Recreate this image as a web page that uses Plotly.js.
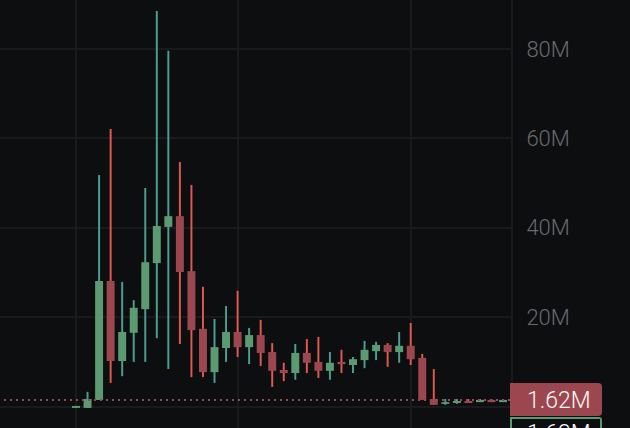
<!DOCTYPE html>
<html>
<head>
<meta charset="utf-8">
<script src="https://cdn.plot.ly/plotly-3.0.1.min.js"></script>
<style>
    html, body { margin: 0; padding: 0; background: #0d0e10; overflow: hidden; }
    #chart { width: 630px; height: 428px; }
</style>
</head>
<body>
<div id="chart"></div>
<script>
// candle values in millions
const opens = [-0.3, -0.3, 1.5, 28.1, 10.2, 16.5, 21.8, 32.1, 40.2, 42.6, 30.3, 17.4, 7.7, 13.1, 16.7, 13.3, 16.0, 12.2, 8.2, 7.5, 12.0, 10.0, 8.0, 10.0, 9.3, 10.4, 12.4, 13.8, 12.2, 13.6, 10.9, 1.7, 0.6, 0.8, 1.25, 1.0, 1.5, 1.0];
const closes = [0.15, 1.7, 28.1, 10.2, 16.7, 22.1, 32.3, 40.4, 42.6, 30.1, 17.1, 7.7, 13.3, 16.7, 13.3, 16.0, 12.0, 8.0, 7.5, 12.0, 9.8, 8.0, 9.8, 9.5, 10.6, 12.7, 13.8, 12.2, 13.6, 10.6, 1.5, 0.4, 1.0, 1.25, 0.8, 1.5, 1.0, 1.5];
const highs = [0.15, 3.3, 51.8, 62.1, 27.9, 23.8, 48.9, 88.5, 79.6, 54.7, 49.6, 26.8, 19.6, 22.5, 25.9, 17.6, 19.4, 14.2, 9.8, 14.0, 15.1, 15.6, 12.2, 12.7, 11.1, 14.7, 14.5, 14.2, 16.7, 18.7, 11.8, 8.4, 1.7, 1.7, 1.7, 1.7, 1.7, 1.7];
const lows = [-0.3, -0.3, 1.5, 5.3, 6.8, 10.0, 10.0, 15.3, 8.4, 14.0, 6.6, 6.6, 5.3, 10.0, 11.1, 9.5, 9.1, 4.4, 5.7, 6.0, 7.5, 6.4, 6.0, 7.5, 7.5, 8.6, 10.4, 8.9, 9.8, 9.3, 1.5, 0.4, 0.4, 0.6, 0.8, 1.0, 1.0, 1.0];

const priceTicks = [0, 20, 40, 60, 80];
const priceLabels = ['', '20M', '40M', '60M', '80M'];
const timeTicks = [0, 14, 29];
const lastPrice = 1.5;
const lastLabel = '1.62M';
const nextLabel = '1.63M';

const bgColor = '#0d0e10';
const gridColor = '#1a1a1d';
const upBody = '#5c9a72';
const downBody = '#9c4750';
const upWick = '#4c9e90';
const downWick = '#e0594f';
const textColor = '#68696f';

const index = opens.map((_, i) => i);
const isUp = opens.map((o, i) => closes[i] >= o);

// wicks go first so the bodies are drawn on top of them
const wicks = {
    type: 'bar',
    x: index,
    y: highs.map((h, i) => h - lows[i]),
    base: lows,
    width: 0.17,
    marker: { color: isUp.map(u => u ? upWick : downWick), line: { width: 0 } },
    hoverinfo: 'skip'
};
const bodies = {
    type: 'bar',
    x: index,
    y: closes.map((c, i) => Math.abs(c - opens[i])),
    base: closes.map((c, i) => Math.min(c, opens[i])),
    width: 0.69,
    marker: { color: isUp.map(u => u ? upBody : downBody), line: { width: 0 } },
    hoverinfo: 'skip'
};

const layout = {
    width: 630,
    height: 428,
    margin: { l: 0, r: 0, t: 0, b: 0 },
    paper_bgcolor: bgColor,
    plot_bgcolor: bgColor,
    barmode: 'overlay',
    showlegend: false,
    xaxis: {
        domain: [0, 511 / 630],
        range: [-6.586, 37.69],
        tickvals: timeTicks,
        showticklabels: false,
        ticks: '',
        showgrid: true,
        gridcolor: gridColor,
        gridwidth: 2,
        zeroline: false
    },
    yaxis: {
        side: 'right',
        range: [-4.79, 90.96],
        tickvals: priceTicks,
        ticktext: priceLabels,
        ticks: 'outside',
        ticklen: 9,
        tickcolor: 'rgba(0,0,0,0)',
        tickfont: { family: 'Roboto', size: 22, weight: 300, color: textColor },
        showgrid: true,
        gridcolor: gridColor,
        gridwidth: 2,
        zeroline: false,
        showline: true,
        linecolor: gridColor,
        linewidth: 2
    },
    shapes: [
        {
            type: 'line', xref: 'x domain', yref: 'y',
            x0: 0, x1: 1, y0: lastPrice, y1: lastPrice,
            line: { color: downBody, width: 2, dash: '0px,4px,2px,0px' }
        },
        // price boxes on the axis, square on the left and slightly rounded on the right
        {
            type: 'path', xref: 'paper', yref: 'paper', fillcolor: upBody, layer: 'above',
            line: { color: upBody, width: 0 },
            path: 'M 0.8095 0 L 0.8095 0.0257 L 0.9505 0.0257 Q 0.9556 0.0257 0.9556 0.0187 L 0.9556 0 Z'
        },
        {
            type: 'path', xref: 'paper', yref: 'paper', fillcolor: bgColor, layer: 'above',
            line: { width: 0 },
            path: 'M 0.8127 0 L 0.8127 0.0210 L 0.9524 0.0210 L 0.9524 0 Z'
        },
        {
            type: 'path', xref: 'paper', yref: 'paper', fillcolor: downBody, layer: 'above',
            line: { width: 0 },
            path: 'M 0.8095 0.0280 L 0.8095 0.1051 L 0.9492 0.1051 Q 0.9556 0.1051 0.9556 0.0958 L 0.9556 0.0374 Q 0.9556 0.0280 0.9492 0.0280 Z'
        }
    ],
    annotations: [
        {
            xref: 'paper', yref: 'paper', x: 0.8873, y: 0.0654, xanchor: 'center', yanchor: 'middle', showarrow: false,
            text: lastLabel, font: { family: 'Roboto', size: 23, weight: 300, color: '#f8f8f8' }
        },
        {
            xref: 'paper', yref: 'paper', x: 0.8873, y: -0.0117, xanchor: 'center', yanchor: 'middle', showarrow: false,
            text: nextLabel, font: { family: 'Roboto', size: 23, weight: 300, color: '#f8f8f8' }
        }
    ]
};

Plotly.newPlot('chart', [wicks, bodies], layout, { displayModeBar: false, staticPlot: true });
</script>
</body>
</html>
